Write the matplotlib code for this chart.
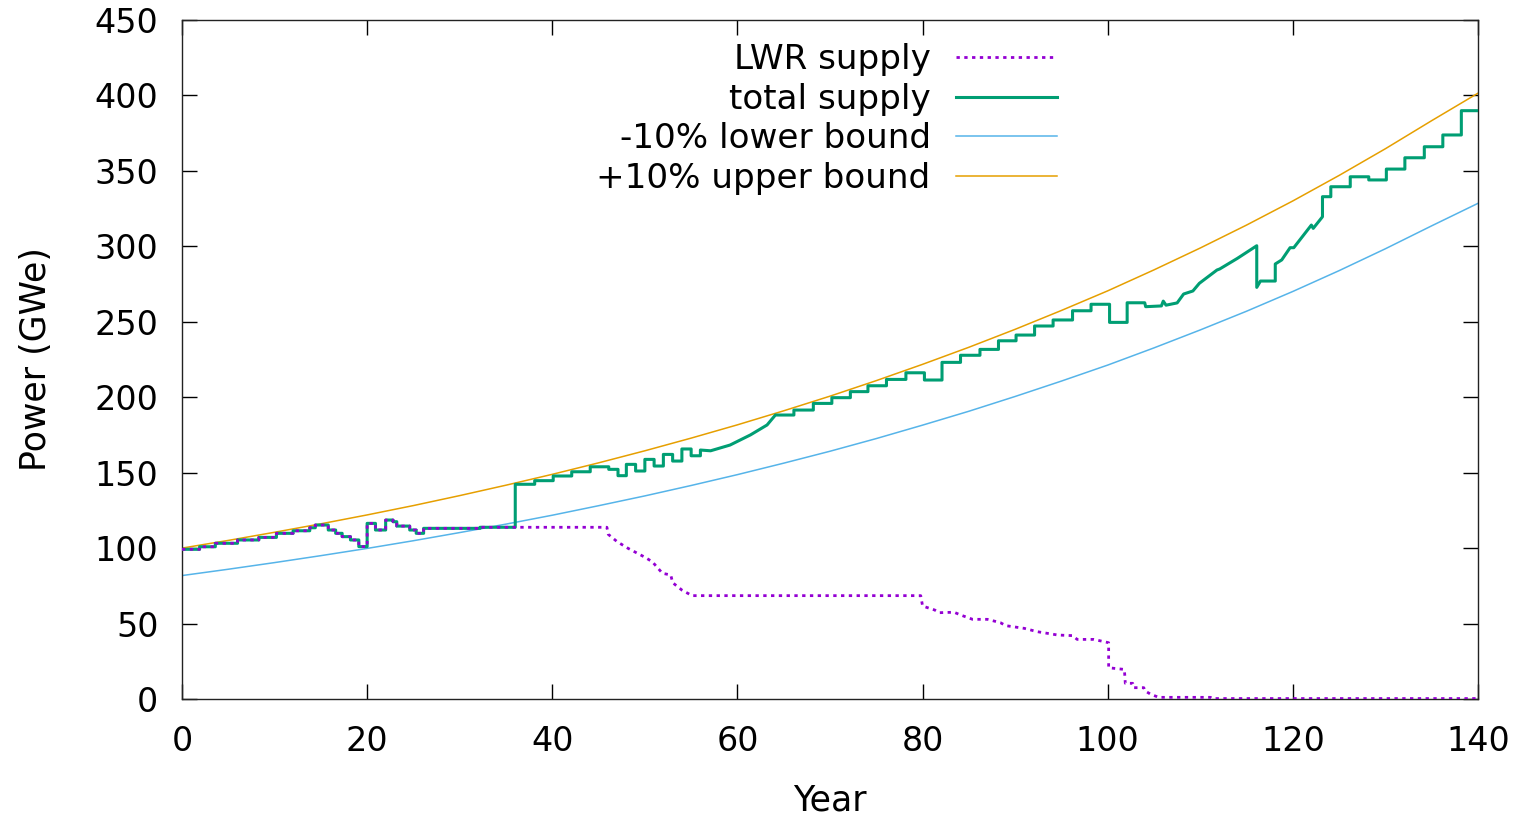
"""
Reactor fleet power supply vs. demand bounds (gnuplot style re-draw).
"""
import matplotlib
matplotlib.use("Agg")
import matplotlib.pyplot as plt

# ── data ───────────────────────────────────────────────
# shared LWR/total history up to year 36 (vertices, jumps = repeated x)
early_year = [0, 1.9, 1.9, 3.6, 3.6, 6.0, 6.0, 8.3, 8.3, 10.2, 10.2, 12.0, 12.0,
              13.8, 13.8, 14.4, 14.4, 15.8, 15.8, 16.6, 16.6, 17.3, 17.3, 18.2,
              18.2, 19.1, 19.1, 20.0, 20.0, 20.9, 20.9, 22.0, 22.0, 22.8, 22.8,
              23.2, 23.2, 24.6, 24.6, 25.3, 25.3, 26.1, 26.1, 32.2, 32.2, 36.0]
early_power = [99.2, 99.2, 100.9, 100.9, 103.2, 103.2, 105.4, 105.4, 107.1, 107.1,
               109.8, 109.8, 111.5, 111.5, 113.5, 113.5, 115.3, 115.3, 112.0, 112.0,
               109.8, 109.8, 107.6, 107.6, 105.4, 105.4, 101.0, 101.0, 116.4, 116.4,
               112.0, 112.0, 118.6, 118.6, 117.5, 117.5, 114.6, 114.6, 112.0, 112.0,
               109.8, 109.8, 113.1, 113.1, 113.8, 113.8]

# total supply after year 36
total_year = [36.0, 38.1, 38.1, 40.1, 40.1, 42.1, 42.1, 44.1, 44.1, 46.1, 46.1, 47.1,
              47.1, 48.0, 48.0, 49.0, 49.0, 50.0, 50.0, 51.0, 51.0, 52.0, 52.0, 53.0,
              53.0, 54.0, 54.0, 55.0, 55.0, 56.0, 56.0, 57.1, 59.2, 61.4, 63.2, 64.1,
              66.1, 66.1, 68.2, 68.2, 70.2, 70.2, 72.2, 72.2, 74.1, 74.1, 76.1, 76.1,
              78.2, 78.2, 80.2, 80.2, 82.1, 82.1, 84.1, 84.1, 86.2, 86.2, 88.2, 88.2,
              90.1, 90.1, 92.1, 92.1, 94.1, 94.1, 96.2, 96.2, 98.2, 98.2, 100.2, 100.2,
              102.1, 102.1, 104.0, 104.1, 105.8, 106.0, 106.3, 107.5, 108.2, 109.2,
              109.9, 111.8, 112.1, 114.0, 116.1, 116.1, 116.5, 118.1, 118.1, 118.8,
              119.7, 120.1, 122.0, 122.2, 123.2, 123.2, 124.1, 124.1, 126.2, 126.2,
              128.2, 128.2, 130.1, 130.1, 132.1, 132.1, 134.2, 134.2, 136.2, 136.2,
              138.2, 138.2, 140.0]
total_power = [142.3, 142.3, 144.7, 144.7, 147.8, 147.8, 150.6, 150.6, 153.9, 153.9,
               152.2, 152.2, 148.0, 148.0, 155.5, 155.5, 151.1, 151.1, 158.8, 158.8,
               154.4, 154.4, 162.1, 162.1, 157.7, 157.7, 165.7, 165.7, 161.2, 161.2,
               165.0, 164.5, 168.3, 175.0, 181.6, 188.2, 188.2, 191.5, 191.5, 195.9,
               195.9, 199.7, 199.7, 203.7, 203.7, 207.6, 207.6, 211.8, 211.8, 216.2,
               216.2, 211.4, 211.4, 223.1, 223.1, 227.8, 227.8, 231.7, 231.7, 237.4,
               237.4, 241.2, 241.2, 247.2, 247.2, 251.2, 251.2, 257.3, 257.3, 261.6,
               261.6, 249.6, 249.6, 262.6, 262.6, 260.0, 260.5, 263.7, 261.0, 262.5,
               268.4, 270.4, 275.5, 284.3, 285.0, 292.0, 300.4, 272.8, 277.0, 277.0,
               288.3, 291.0, 299.1, 299.1, 314.1, 311.9, 319.6, 332.9, 332.9, 339.5,
               339.5, 346.1, 346.1, 344.0, 344.0, 351.2, 351.2, 358.7, 358.7, 366.0,
               366.0, 373.8, 373.8, 389.9, 389.9]

# LWR supply after year 36
lwr_year = [36.0, 45.9, 46.05, 47.0, 48.2, 49.9, 50.8, 51.9, 52.8, 53.0, 54.0, 55.1,
            79.8, 80.0, 81.3, 81.8, 83.4, 84.1, 85.4, 87.0, 88.4, 89.0, 91.0, 92.4,
            94.6, 96.2, 96.7, 98.5, 100.1, 100.1, 101.8, 101.9, 102.7, 102.8, 103.9,
            104.0, 104.6, 105.5, 111.1, 111.3, 140.0]
lwr_power = [113.8, 113.8, 109.1, 104.3, 99.8, 94.3, 91.0, 83.3, 82.2, 77.1, 72.2, 68.5,
             68.5, 61.6, 59.0, 57.2, 57.5, 55.7, 52.8, 52.8, 50.6, 48.6, 46.8, 44.6,
             42.4, 42.0, 39.5, 39.5, 37.3, 20.7, 19.6, 10.4, 10.4, 7.5, 7.5, 5.5, 3.3,
             1.1, 1.1, 0.3, 0.3]

# +/-10% demand bounds, read every 5 years
bound_year = [0, 5, 10, 15, 20, 25, 30, 35, 40, 45, 50, 55, 60, 65, 70,
              75, 80, 85, 90, 95, 100, 105, 110, 115, 120, 125, 130, 135, 140]
upper_bound = [100.0, 105.1, 110.5, 116.1, 122.0, 128.2, 134.8, 141.7, 148.9, 156.5,
               164.5, 172.9, 181.7, 191.0, 200.7, 211.0, 221.8, 233.1, 245.0, 257.5,
               270.5, 284.4, 298.9, 314.1, 330.1, 347.0, 364.7, 383.3, 401.5]
lower_bound = [81.8, 86.0, 90.4, 95.0, 99.8, 104.9, 110.3, 115.9, 121.8, 128.1,
               134.6, 141.5, 148.7, 156.3, 164.2, 172.6, 181.5, 190.7, 200.5, 210.7,
               221.3, 232.7, 244.6, 257.0, 270.1, 283.9, 298.4, 313.6, 328.5]

# ── figure ─────────────────────────────────────────────
FS_TICK = 24
FS_TEXT = 25
plt.rcParams["font.family"] = ["DejaVu Sans"]

fig = plt.figure(figsize=(15.27, 8.16), dpi=100)
ax = fig.add_axes([182 / 1527, 117 / 816, 1296 / 1527, 679 / 816])

tot_x = early_year + total_year
tot_y = early_power + total_power
lwr_x = early_year + lwr_year
lwr_y = early_power + lwr_power

ax.plot(lwr_x, lwr_y, color="#9400d3", lw=2.0, ls=(0, (1.2, 1.6)),
        dash_capstyle="butt", label="LWR supply", zorder=4)
ax.plot(tot_x, tot_y, color="#009e73", lw=2.2, label="total supply", zorder=3)
ax.plot(bound_year, lower_bound, color="#56b4e9", lw=1.1, label="-10% lower bound", zorder=2)
ax.plot(bound_year, upper_bound, color="#e69f00", lw=1.1, label="+10% upper bound", zorder=2)

ax.set_xlim(0, 140)
ax.set_ylim(0, 450)
ax.set_xticks(range(0, 141, 20))
ax.set_yticks(range(0, 451, 50))
ax.tick_params(direction="in", length=10.8, width=1.0, top=True, right=True,
               labelsize=FS_TICK, colors="black")
ax.tick_params(axis="x", pad=19)
ax.tick_params(axis="y", pad=17)
for sp in ax.spines.values():
    sp.set_linewidth(1.0)
    sp.set_color("#222222")

ax.set_xlabel("Year", fontsize=FS_TEXT, labelpad=18)
ax.set_ylabel("Power (GWe)", fontsize=FS_TEXT, labelpad=30)

ax.legend(loc="upper center", bbox_to_anchor=(0.4975, 0.986), borderaxespad=0,
          frameon=False, markerfirst=False, fontsize=24.6, handlelength=2.97,
          handletextpad=0.73, labelspacing=0.19)

fig.savefig("out.png", dpi=100, facecolor="white")
